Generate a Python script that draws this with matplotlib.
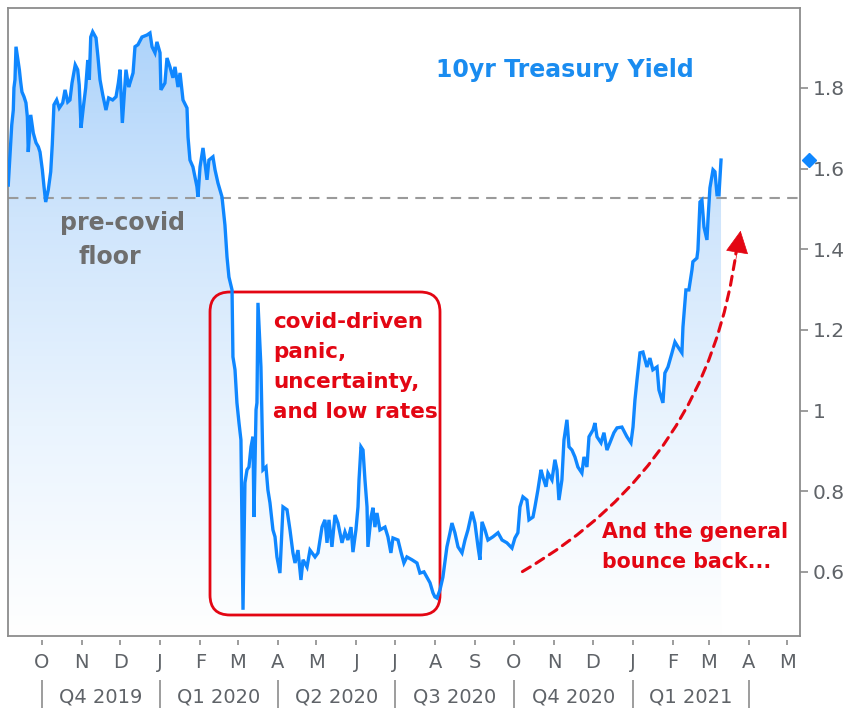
import numpy as np
import pandas as pd
import matplotlib
matplotlib.use('Agg')
import matplotlib.pyplot as plt
import matplotlib.dates as mdates
from matplotlib.patches import FancyBboxPatch, FancyArrowPatch
from matplotlib.colors import LinearSegmentedColormap

# ---------------- data ----------------
start_date = '2019-09-05'
days = [
    0.2, 1.5, 2.9, 4.1, 4.6, 5.4, 6.2, 8.8, 9.8, 10.8, 12.4, 13.9, 15.0, 15.7, 17.6, 19.6,
    21.7, 23.5, 24.8, 26.6, 27.9, 29.2, 31.2, 33.1, 34.3, 35.6, 37.7, 39.7, 42.4, 44.2, 46.3,
    48.0, 49.6, 52.1, 54.0, 55.2, 56.6, 58.3, 60.2, 61.8, 63.0, 64.1, 65.6, 68.2, 69.7, 71.3,
    73.4, 75.9, 78.0, 81.1, 83.7, 85.5, 86.8, 88.6, 91.4, 93.5,
    94.5, 96.9, 98.4, 100.7, 103.8, 107.7, 110.0, 111.6, 113.9, 115.4, 117.8, 118.5, 121.6,
    123.2, 125.5, 127.8, 129.4, 131.7, 133.3, 135.6, 138.7, 139.5, 141.0, 143.3, 146.4, 147.2,
    148.8, 151.1, 152.6, 154.2, 155.7, 158.8, 160.4, 162.7, 165.8, 168.1, 169.7, 171.2, 173.6,
    174.3, 175.9, 177.4, 179.0, 180.5, 181.3, 182.1, 183.6, 185.2, 186.7, 188.3, 189.8, 190.6,
    192.2, 192.9, 193.7, 196.0, 196.8, 197.6, 199.9, 201.4, 203.0, 205.3, 206.9, 208.4, 210.7,
    213.1, 216.2, 218.5, 220.8, 222.4, 224.7, 227.0, 228.6, 231.7, 234.0, 237.9, 240.2, 243.3,
    245.6, 247.2, 248.7, 251.0, 253.4, 255.7, 258.8, 261.1, 263.4, 265.8, 267.3, 269.6, 271.2,
    272.0, 273.5, 275.1, 276.6, 278.2, 278.9, 281.3, 282.8, 284.3, 285.9, 288.2, 292.1, 294.4,
    296.7, 298.3, 302.2, 304.5, 306.8, 309.1, 313.0, 316.9, 319.2, 322.3, 324.6, 327.0, 329.3,
    330.8, 332.4, 334.7, 337.0, 340.1, 342.5, 344.0, 346.3, 348.7,
    351.8, 354.1, 356.4, 359.5, 361.8, 364.2, 365.7, 367.3, 369.6, 371.9, 375.8, 379.7, 382.8,
    386.6, 390.5, 392.8, 395.1, 396.7, 399.0, 402.1, 403.7, 406.8, 408.3, 410.6, 413.0, 414.5,
    416.9, 418.4, 421.5, 423.8, 425.4, 426.9, 429.2, 430.8, 433.1, 434.7, 437.0, 439.3, 441.6,
    444.7, 446.3, 448.6, 450.2, 453.3, 454.8, 456.4, 459.5, 461.8, 464.1, 466.4, 469.5, 471.9,
    475.7, 479.6, 482.7,
    484.3, 485.8, 487.4, 489.7, 492.0, 495.1, 497.4, 499.7, 502.9, 504.4, 507.5, 509.0, 511.4,
    514.5, 516.8, 519.1, 522.2, 523.0, 525.3, 527.6, 530.0, 530.7, 533.8, 534.6, 536.2, 537.7,
    539.3, 541.6, 542.4, 543.9, 546.3, 547.8, 549.4, 550.9, 552.5,
]
yields = [
    1.559, 1.629, 1.708, 1.745, 1.800, 1.820, 1.902, 1.845, 1.815, 1.790, 1.778, 1.763, 1.728, 1.641, 1.733, 1.688,
    1.664, 1.654, 1.641, 1.597, 1.555, 1.517, 1.547, 1.592, 1.659, 1.758, 1.770, 1.750, 1.763, 1.795, 1.765,
    1.770, 1.812, 1.857, 1.845, 1.807, 1.701, 1.750, 1.800, 1.869, 1.820, 1.926, 1.939, 1.924, 1.877, 1.820,
    1.783, 1.745, 1.775, 1.770, 1.778, 1.812, 1.845, 1.713, 1.845, 1.802,
    1.812, 1.837, 1.902, 1.907, 1.926, 1.931, 1.936, 1.902, 1.887, 1.914, 1.887, 1.795, 1.812,
    1.874, 1.852, 1.825, 1.852, 1.802, 1.837, 1.770, 1.750, 1.678, 1.621, 1.604, 1.555, 1.530,
    1.604, 1.651, 1.614, 1.572, 1.621, 1.629, 1.597, 1.564, 1.530, 1.460, 1.381, 1.331, 1.299,
    1.133, 1.101, 1.019, 0.969, 0.927, 0.711, 0.506, 0.821, 0.853, 0.860, 0.910, 0.935, 0.736,
    1.002, 1.019, 1.267, 1.108, 0.984, 0.853, 0.860, 0.803, 0.771, 0.704, 0.687, 0.637, 0.597,
    0.761, 0.754, 0.704, 0.647, 0.622, 0.654, 0.580, 0.630, 0.612, 0.654, 0.637, 0.647, 0.711,
    0.729, 0.672, 0.729, 0.662, 0.741, 0.721, 0.672, 0.699, 0.679, 0.711, 0.649, 0.704, 0.761,
    0.828, 0.910, 0.902, 0.828, 0.761, 0.662, 0.736, 0.759, 0.711, 0.746, 0.704, 0.711, 0.687,
    0.647, 0.684, 0.679, 0.649, 0.622, 0.637, 0.630, 0.622, 0.597, 0.600, 0.587, 0.573, 0.548,
    0.538, 0.535, 0.555, 0.587, 0.662, 0.697, 0.721, 0.697, 0.662,
    0.647, 0.679, 0.704, 0.749, 0.721, 0.662, 0.630, 0.724, 0.704, 0.679, 0.687, 0.697, 0.679,
    0.672, 0.659, 0.684, 0.697, 0.761, 0.786, 0.778, 0.729, 0.736, 0.761, 0.803, 0.853, 0.835,
    0.811, 0.845, 0.828, 0.878, 0.853, 0.778, 0.828, 0.927, 0.977, 0.910, 0.902, 0.885, 0.860,
    0.845, 0.885, 0.860, 0.935, 0.952, 0.969, 0.935, 0.920, 0.945, 0.902, 0.920, 0.945, 0.957,
    0.959, 0.935, 0.920,
    0.959, 1.026, 1.076, 1.143, 1.145, 1.108, 1.130, 1.101, 1.108, 1.051, 1.019, 1.093, 1.108,
    1.143, 1.170, 1.158, 1.143, 1.207, 1.299, 1.299, 1.349, 1.369, 1.378, 1.398, 1.517, 1.522,
    1.455, 1.423, 1.473, 1.552, 1.597, 1.592, 1.535, 1.535, 1.621,
]
floor_level = 1.527
month_letters = list('ONDJFMAMJJASONDJFMAM')
first_month = '2019-10-01'
quarter_labels = ['Q4 2019', 'Q1 2020', 'Q2 2020', 'Q3 2020', 'Q4 2020', 'Q1 2021']
first_quarter = '2019-10-01'
y_ticks = [0.6, 0.8, 1.0, 1.2, 1.4, 1.6, 1.8]
y_tick_labels = ['0.6', '0.8', '1', '1.2', '1.4', '1.6', '1.8']
title_text = '10yr Treasury Yield'
floor_lines = ['pre-covid', 'floor']
box_lines = ['covid-driven', 'panic,', 'uncertainty,', 'and low rates']
bounce_lines = ['And the general', 'bounce back...']

# ---------------- styles ----------------
W, H = 855, 708
LINE_BLUE = '#0f87ff'
TITLE_BLUE = '#1a8cf0'
RED = '#e30613'
GRAY_TXT = '#6e6e6e'
AX_GRAY = '#8c8c8c'
TICK_TXT = '#5f6368'

base = pd.Timestamp(start_date)
x_dates = base + pd.to_timedelta(np.array(days), unit='D')
x = mdates.date2num(x_dates.to_pydatetime())
y = np.array(yields)

x_left = mdates.date2num(base)
x_right = mdates.date2num(base + pd.Timedelta(days=613.7))
y_bot, y_top = 0.441, 1.998

fig = plt.figure(figsize=(W / 100, H / 100), dpi=100)
fig.patch.set_facecolor('white')
ax = fig.add_axes([8 / W, 72 / H, 792 / W, 628 / H])
ax.set_facecolor('white')

def px(xp, yp):
    return (xp / W, 1 - yp / H)

# gradient fill under the line
poly = ax.fill_between(x, y, y_bot, color='none', lw=0)
clip_path = poly.get_paths()[0]
cmap = LinearSegmentedColormap.from_list('g', ['#ffffff', '#eaf4fe', '#cfe5fc', '#a9d1fa'])
grad = np.linspace(0, 1, 256).reshape(-1, 1)
im = ax.imshow(grad, extent=[x_left, x_right, y_bot, y_top], origin='lower',
               aspect='auto', cmap=cmap, zorder=1, interpolation='bicubic')
im.set_clip_path(clip_path, transform=ax.transData)

# floor line
ax.axhline(floor_level, color='#9a9a9a', lw=1.5, ls=(0, (5, 3.5)), zorder=2)

# main line
ax.plot(x, y, color=LINE_BLUE, lw=2.4, zorder=4, solid_joinstyle='miter')

ax.set_xlim(x_left, x_right)
ax.set_ylim(y_bot, y_top)

# spines
for s in ax.spines.values():
    s.set_color(AX_GRAY)
    s.set_linewidth(1.3)

# y axis on right
ax.yaxis.tick_right()
ax.set_yticks(y_ticks)
ax.set_yticklabels(y_tick_labels)
ax.tick_params(axis='y', length=6, width=1.2, color=AX_GRAY, pad=3,
               labelsize=14.5, labelcolor=TICK_TXT)

# month ticks
months = pd.date_range(first_month, periods=len(month_letters), freq='MS')
mnum = mdates.date2num(months.to_pydatetime())
ax.set_xticks(mnum)
ax.set_xticklabels(month_letters)
ax.tick_params(axis='x', length=0, pad=12, labelsize=14, labelcolor=TICK_TXT)
xtr = ax.get_xaxis_transform()
ax.vlines(mnum, -0.0065, -0.0145, transform=xtr, clip_on=False, color=AX_GRAY, lw=1.2)

# quarter labels
qstarts = pd.date_range(first_quarter, periods=len(quarter_labels) + 1, freq='QS')
qnum = mdates.date2num(qstarts.to_pydatetime())
ax.vlines(qnum, -0.070, -0.12, transform=xtr, clip_on=False, color=AX_GRAY, lw=1.2)
for i, lab in enumerate(quarter_labels):
    ax.text((qnum[i] + qnum[i + 1]) / 2, -0.097, lab, transform=xtr, ha='center', va='center',
            fontsize=14, color=TICK_TXT, clip_on=False)

# last value marker
ax.plot([1.0115], [y[-1]], marker='D', ms=7, color=LINE_BLUE, transform=ax.get_yaxis_transform(),
        clip_on=False, zorder=5)

# title
fig.text(*px(565, 77), title_text, ha='center', va='baseline', fontsize=17, fontweight='bold',
         color=TITLE_BLUE)

# pre-covid floor text
fig.text(*px(60, 230), floor_lines[0], ha='left', va='baseline', fontsize=17, fontweight='bold',
         color=GRAY_TXT)
fig.text(*px(78, 264), floor_lines[1], ha='left', va='baseline', fontsize=17, fontweight='bold',
         color=GRAY_TXT)

# red box + text
box = FancyBboxPatch((2.10, (H - 615) / 100), 2.30, 3.23,
                     boxstyle='round,pad=0,rounding_size=0.2', transform=fig.dpi_scale_trans,
                     fill=False, ec=RED, lw=2.0, zorder=3, clip_on=False)
ax.add_patch(box)
for i, line in enumerate(box_lines):
    fig.text(*px(273, 328 + 30 * i), line, ha='left', va='baseline', fontsize=15.5,
             fontweight='bold', color=RED)

for i, line in enumerate(bounce_lines):
    fig.text(*px(602, 538 + 30 * i), line, ha='left', va='baseline', fontsize=14.8,
             fontweight='bold', color=RED)

# dashed curved arrow: dashed body + solid head
body = FancyArrowPatch(posA=(5.20, (H - 573) / 100), posB=(7.37, (H - 245) / 100),
                       connectionstyle='arc3,rad=0.25', arrowstyle='-', mutation_scale=20,
                       linestyle=(0, (3, 2.2)), lw=2.2, color=RED,
                       transform=fig.dpi_scale_trans, zorder=5)
fig.add_artist(body)
head = FancyArrowPatch(posA=(7.355, (H - 262) / 100), posB=(7.41, (H - 228) / 100),
                       arrowstyle='-|>,head_length=0.75,head_width=0.38', mutation_scale=20,
                       lw=0.5, color=RED, transform=fig.dpi_scale_trans, zorder=5)
fig.add_artist(head)

fig.savefig('out.png', dpi=100, facecolor='white')
